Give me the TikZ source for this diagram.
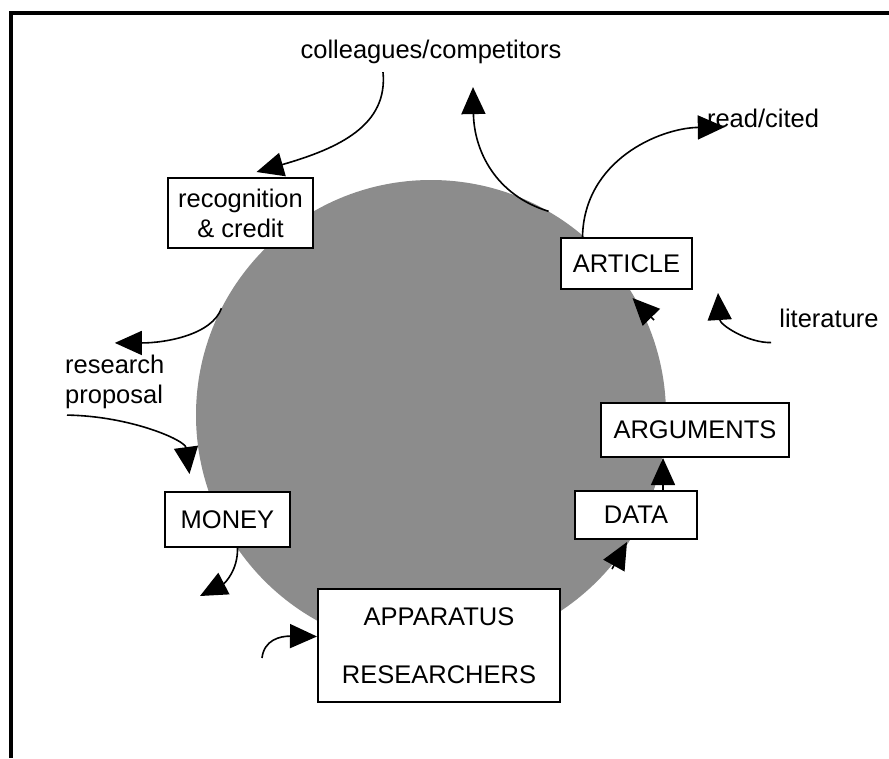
\documentclass[tikz,border=0pt]{standalone}
\usepackage{fontspec}
\setmainfont{Liberation Sans}
\usetikzlibrary{arrows.meta}

\begin{document}
\begin{tikzpicture}[x=1pt, y=-1pt,
  every node/.style={font=\fontsize{25.5}{30}\selectfont},
  box/.style={draw, line width=2pt, fill=white, inner sep=0pt, align=center},
  lbl/.style={inner sep=0pt, align=left},
  arr/.style={line width=1.6pt, -{Triangle[length=27pt, width=24pt]}}]
\useasboundingbox (0,0) rectangle (889,758);
\draw[line width=4pt] (11,758) -- (11,13) -- (889,13);
\node[circle, fill=black!45, inner sep=0pt, minimum size=470pt] (cycle) at (431,415) {};
% boxes round the cycle
\node[box, minimum width=145pt, minimum height=70pt] (recog) at (240.5,213) {recognition\\\& credit};
\node[box, minimum width=131pt, minimum height=51pt] (article) at (626.5,263.5) {ARTICLE};
\node[box, minimum width=188pt, minimum height=54pt] (arguments) at (695,430) {ARGUMENTS};
\node[box, minimum width=122pt, minimum height=48pt] (data) at (636,515) {DATA};
\node[box, minimum width=125pt, minimum height=55pt] (money) at (227.5,519.5) {MONEY};
\node[box, minimum width=242pt, minimum height=113pt, font=\fontsize{25.5}{58}\selectfont] (apparatus) at (439,645.5) {APPARATUS\\RESEARCHERS};
% outside labels
\node[lbl] (colleagues) at (431,52) {colleagues/competitors};
\node[lbl] (cited) at (763,118) {read/cited};
\node[lbl] (literature) at (829,318) {literature};
\node[lbl, anchor=west] (proposal) at (65,382) {research\\proposal};
\coordinate (toarticle) at (654,320);
\coordinate (litend) at (718,293);
\coordinate (moneyout) at (200,596);
\coordinate (appin) at (262,658);
\coordinate (datain) at (612,569);
% connectors
\draw[arr] ([xshift=-48pt,yshift=-8pt]colleagues.south) .. controls (388,125) and (340,148) .. ([xshift=16pt,yshift=5pt]recog.north);
\draw[arr] (cycle.60) .. controls (495,195) and (474,150) .. ([xshift=42pt,yshift=-23pt]colleagues.south);
\draw[arr] ([xshift=-44pt]article.north) .. controls (584,160) and (660,128) .. ([xshift=18pt,yshift=-9pt]cited.west);
\draw[arr] (toarticle) -- ([xshift=6pt,yshift=-8pt]article.south);
\draw[arr] ([xshift=-8pt,yshift=-15pt]literature.south west) .. controls (748,343) and (720,325) .. (litend);
\draw[arr] (cycle.153) .. controls (212,335) and (165,343) .. ([yshift=12pt]proposal.north);
\draw[arr] ([xshift=2pt,yshift=-6pt]proposal.south west) .. controls (130,416) and (185,440) .. ([xshift=-38pt,yshift=17pt]money.north);
\draw[arr] ([xshift=10pt]money.south) .. controls (238,570) and (225,583) .. (moneyout);
\draw[arr] (appin) .. controls (264,640) and (280,636) .. ([yshift=9pt]apparatus.west);
\draw[arr] (datain) -- ([xshift=-9pt,yshift=-2pt]data.south);
\draw[arr] ([xshift=27pt]data.north) -- ([xshift=-32pt]arguments.south);
\end{tikzpicture}
\end{document}
